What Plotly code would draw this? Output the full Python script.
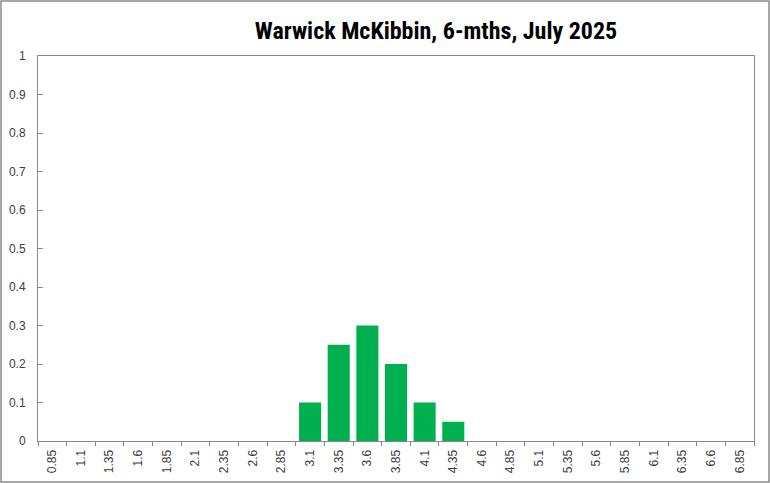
import plotly.graph_objects as go

# rate buckets (x categories) and probabilities
rate_labels = ["0.85", "1.1", "1.35", "1.6", "1.85", "2.1", "2.35", "2.6", "2.85",
               "3.1", "3.35", "3.6", "3.85", "4.1", "4.35", "4.6", "4.85", "5.1",
               "5.35", "5.6", "5.85", "6.1", "6.35", "6.6", "6.85"]
probabilities = [0, 0, 0, 0, 0, 0, 0, 0, 0,
                 0.1, 0.25, 0.3, 0.2, 0.1, 0.05, 0, 0, 0,
                 0, 0, 0, 0, 0, 0, 0]
y_ticks = [0, 0.1, 0.2, 0.3, 0.4, 0.5, 0.6, 0.7, 0.8, 0.9, 1]
y_tick_text = ["0", "0.1", "0.2", "0.3", "0.4", "0.5", "0.6", "0.7", "0.8", "0.9", "1"]

W, H = 770, 483
L, R, T, B = 38, 16, 56, 42
pw, ph = W - L - R, H - T - B

fig = go.Figure()
fig.add_trace(go.Bar(x=rate_labels, y=probabilities, marker=dict(color="#00B050", line=dict(width=0))))

axis_col = "#898989"
fig.update_layout(
    width=W, height=H,
    margin=dict(l=L, r=R, t=T, b=B),
    paper_bgcolor="white", plot_bgcolor="white",
    bargap=0.23,
    showlegend=False,
    font=dict(family="Liberation Sans", size=12, color="#404040"),
    title=dict(text="<b>Warwick McKibbin, 6-mths, July 2025</b>",
               x=436 / W, xanchor="center", y=1 - 31 / H, yanchor="middle",
               font=dict(family="Roboto Condensed, Liberation Sans Narrow, Roboto", size=24, color="black")),
    xaxis=dict(type="category", tickangle=-90, tickson="boundaries", ticks="outside",
               ticklen=4, tickcolor=axis_col, showline=True, linecolor=axis_col, linewidth=1,
               mirror=True, showgrid=False, automargin=False, ticklabelstandoff=3,
               tickfont=dict(size=12, color="#404040")),
    yaxis=dict(range=[0, 1], tickvals=y_ticks, ticktext=y_tick_text, ticks="inside",
               ticklen=5, tickcolor=axis_col, showline=True, linecolor=axis_col, linewidth=1,
               mirror=True, showgrid=False, zeroline=False, automargin=False,
               ticklabelstandoff=9, tickfont=dict(size=12, color="#404040")),
)

# outer chart border
fig.add_shape(type="rect", xref="paper", yref="paper",
              x0=(1 - L) / pw, x1=(W - 1 - L) / pw,
              y0=-(B - 1) / ph, y1=(H - 1 - B) / ph,
              line=dict(color=axis_col, width=1.5))

# drop the browser's default page margin so the chart fills the window
fig.write_html("out.html", config={"displayModeBar": False},
               post_script="document.body.style.margin='0';")
